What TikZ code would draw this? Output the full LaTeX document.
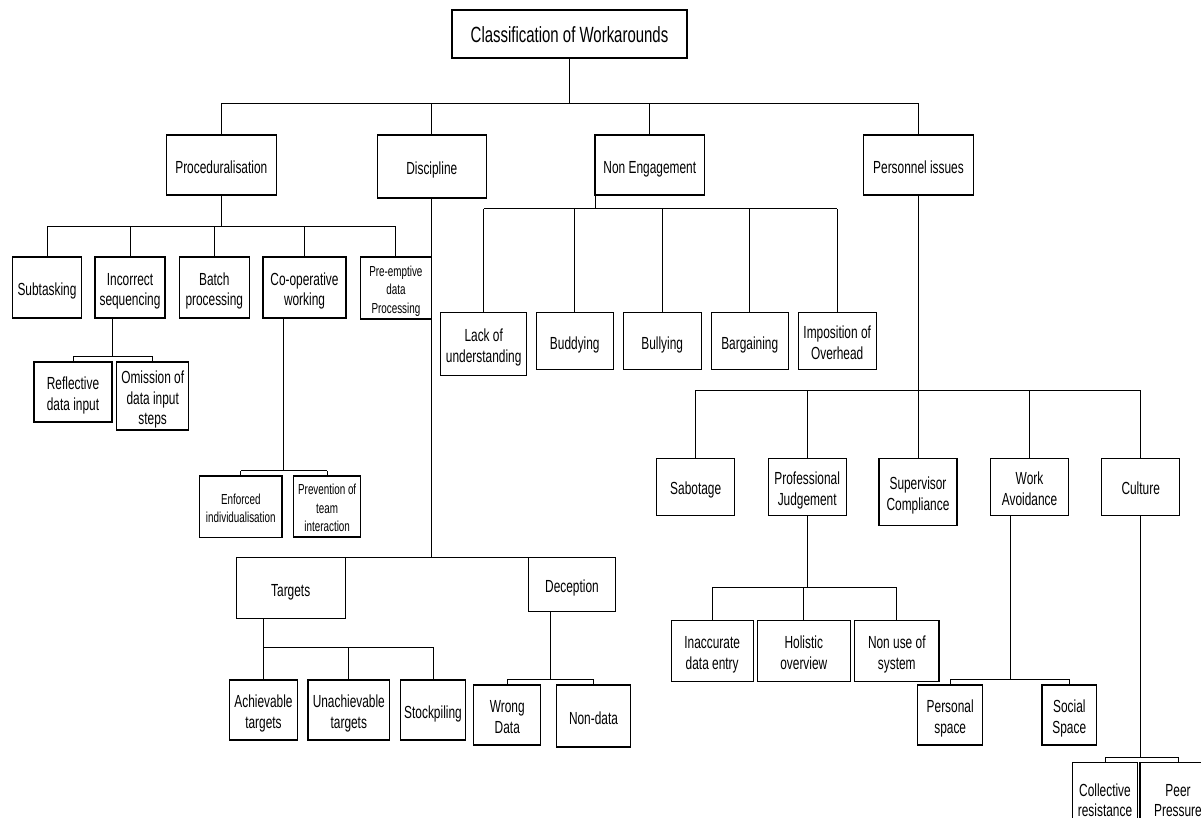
\documentclass[tikz,border=0pt]{standalone}
\usepackage{fontspec}
\setmainfont{Liberation Sans}[FakeStretch=0.68]
\usetikzlibrary{calc}
\newcommand{\bt}[2][-4pt]{\raisebox{#1}[\height][\depth]{\begin{tabular}{@{}c@{}}#2\end{tabular}}}
\tikzset{
  box/.style={draw=black, line width=1.1pt, rectangle, inner sep=1pt, outer sep=0pt,
    font=\fontsize{17.5}{20.5}\selectfont},
  smallbox/.style={box, font=\fontsize{14.5}{18.5}\selectfont},
  titlebox/.style={box, font=\fontsize{22}{26}\selectfont},
  sz/.style 2 args={minimum width=#1pt, minimum height=#2pt},
  conn/.style={draw=black, line width=1pt},
}
\begin{document}
\begin{tikzpicture}[x=1pt, y=-1pt]
\useasboundingbox (0,0) rectangle (1201,818);
\clip (0,0) rectangle (1201,818);

% ---------- nodes ----------
\node[titlebox, sz={235}{48}] (title) at (569.5,34) {\bt[-3pt]{Classification of Workarounds}};

\node[box, sz={109.5}{60}] (proc)   at (221.3,165)   {\bt{Proceduralisation}};
\node[box, sz={109.5}{63}] (disc)   at (431.8,166.5) {\bt{Discipline}};
\node[box, sz={109.6}{60}] (noneng) at (649.8,165)   {\bt{Non Engagement}};
\node[box, sz={110}{60}]   (pers)   at (918.5,165)   {\bt{Personnel issues}};

% Proceduralisation children
\node[box, sz={69.4}{61}] (sub)   at (47,287.5)    {\bt{Subtasking}};
\node[box, sz={70}{61}]   (inc)   at (130,287.5)   {\bt{Incorrect\\sequencing}};
\node[box, sz={69.5}{61}] (batch) at (214.3,287.5) {\bt{Batch\\processing}};
\node[box, sz={83}{61}]   (coop)  at (304.5,287.5) {\bt{Co-operative\\working}};
\node[smallbox, sz={70.8}{62}] (pre) at (395.9,288) {\bt[-3pt]{Pre-emptive\\data\\Processing}};

\node[box, sz={78}{60}] (refl) at (73,392)    {\bt{Reflective\\data input}};
\node[box, sz={72}{68}] (omis) at (152.7,396) {\bt{Omission of\\data input\\steps}};

\node[smallbox, sz={82.4}{61.3}] (enf)  at (240.8,506.6) {\bt[-3pt]{Enforced\\individualisation}};
\node[smallbox, sz={66.8}{61}]   (prev) at (327.2,506.5) {\bt[-3pt]{Prevention of\\team\\interaction}};

% Discipline children
\node[box, sz={109.3}{60.3}] (targ) at (290.7,587.9) {\bt{Targets}};
\node[box, sz={87.4}{53.6}]  (dec)  at (572,584.5)   {\bt{Deception}};

\node[box, sz={68}{60}]   (ach)   at (263.5,710) {\bt{Achievable\\targets}};
\node[box, sz={81.6}{60}] (unach) at (348.8,710) {\bt{Unachievable\\targets}};
\node[box, sz={65.2}{60}] (stock) at (433,710)   {\bt{Stockpiling}};

\node[box, sz={66.8}{60}] (wrong) at (507.3,715) {\bt{Wrong\\Data}};
\node[box, sz={74.3}{62}] (nond)  at (593.5,716) {\bt{Non-data}};

% Non Engagement children
\node[box, sz={86}{62.6}]   (lack)  at (483.7,344) {\bt{Lack of\\understanding}};
\node[box, sz={77}{56.6}]   (budd)  at (574.8,341) {\bt{Buddying}};
\node[box, sz={77.7}{56.6}] (bully) at (662.2,341) {\bt{Bullying}};
\node[box, sz={77.3}{56.6}] (barg)  at (749.7,341) {\bt{Bargaining}};
\node[box, sz={77.7}{56.6}] (impo)  at (837.2,341) {\bt{Imposition of\\Overhead}};

% Personnel issues children
\node[box, sz={77.7}{56.7}] (sab)  at (695.7,486.7)  {\bt{Sabotage}};
\node[box, sz={77.7}{56.7}] (pj)   at (807.2,486.7)  {\bt{Professional\\Judgement}};
\node[box, sz={78}{66.7}]   (sup)  at (918,491.7)    {\bt{Supervisor\\Compliance}};
\node[box, sz={77.7}{56.7}] (work) at (1029.5,486.7) {\bt{Work\\Avoidance}};
\node[box, sz={77.7}{56.7}] (cult) at (1140.7,486.7) {\bt{Culture}};

\node[box, sz={81.7}{60.7}] (inac)   at (712.2,650.7) {\bt{Inaccurate\\data entry}};
\node[box, sz={92.5}{60.7}] (hol)    at (803.8,650.7) {\bt{Holistic\\overview}};
\node[box, sz={84.4}{60.7}] (nonuse) at (896.8,650.7) {\bt{Non use of\\system}};

\node[box, sz={64.7}{60}] (persp) at (950.2,715)  {\bt{Personal\\space}};
\node[box, sz={54.6}{60}] (socsp) at (1069.3,715) {\bt{Social\\Space}};

\node[box, sz={65.4}{72}] (coll) at (1105,798.3) {\bt{Collective\\resistance}};
\node[box, sz={76}{72}]   (peer) at (1178,798.3) {\bt{Peer\\Pressure}};

% ---------- connectors ----------
% root
\coordinate (b0) at (0,104);
\draw[conn] (title.south) -- (title.south |- b0);
\draw[conn] (proc.north |- b0) -- (pers.north |- b0);
\foreach \n in {proc,disc,noneng,pers} \draw[conn] (\n.north) -- (\n.north |- b0);

% Proceduralisation
\coordinate (b1) at (0,227);
\draw[conn] (proc.south) -- (proc.south |- b1);
\draw[conn] (sub.north |- b1) -- (pre.north |- b1);
\foreach \n in {sub,inc,batch,coop,pre} \draw[conn] (\n.north) -- (\n.north |- b1);

% Incorrect sequencing
\coordinate (b2) at (0,356);
\coordinate (incd) at ($(inc.south west)!0.25!(inc.south east)$);
\draw[conn] (incd) -- (incd |- b2);
\draw[conn] (refl.north |- b2) -- (omis.north |- b2);
\foreach \n in {refl,omis} \draw[conn] (\n.north) -- (\n.north |- b2);

% Co-operative working
\coordinate (b3) at (0,470.7);
\coordinate (coopd) at ($(coop.south west)!0.25!(coop.south east)$);
\draw[conn] (coopd) -- (coopd |- b3);
\draw[conn] (enf.north |- b3) -- (prev.north |- b3);
\foreach \n in {enf,prev} \draw[conn] (\n.north) -- (\n.north |- b3);

% Discipline
\coordinate (b4) at (0,557);
\draw[conn] (disc.south) -- (disc.south |- b4);
\draw[conn] (targ.north |- b4) -- (dec.north |- b4);

% Targets
\coordinate (b5) at (0,647);
\coordinate (targd) at ($(targ.south west)!0.25!(targ.south east)$);
\draw[conn] (targd) -- (targd |- b5);
\draw[conn] (ach.north |- b5) -- (stock.north |- b5);
\foreach \n in {ach,unach,stock} \draw[conn] (\n.north) -- (\n.north |- b5);

% Deception
\coordinate (b6) at (0,679.3);
\coordinate (decd) at ($(dec.south west)!0.25!(dec.south east)$);
\draw[conn] (decd) -- (decd |- b6);
\draw[conn] (wrong.north |- b6) -- (nond.north |- b6);
\foreach \n in {wrong,nond} \draw[conn] (\n.north) -- (\n.north |- b6);

% Non Engagement
\coordinate (b7) at (0,209);
\draw[conn] (noneng.south west) -- (noneng.south west |- b7);
\draw[conn] (lack.north |- b7) -- (impo.north |- b7);
\foreach \n in {lack,budd,bully,barg,impo} \draw[conn] (\n.north) -- (\n.north |- b7);

% Personnel issues
\coordinate (b8) at (0,390.3);
\draw[conn] (pers.south) -- (pers.south |- b8);
\draw[conn] (sab.north |- b8) -- (cult.north |- b8);
\foreach \n in {sab,pj,sup,work,cult} \draw[conn] (\n.north) -- (\n.north |- b8);

% Professional Judgement
\coordinate (b9) at (0,587.7);
\draw[conn] (pj.south) -- (pj.south |- b9);
\draw[conn] (inac.north |- b9) -- (nonuse.north |- b9);
\foreach \n in {inac,hol,nonuse} \draw[conn] (\n.north) -- (\n.north |- b9);

% Work Avoidance
\coordinate (b10) at (0,679.3);
\coordinate (workd) at ($(work.south west)!0.25!(work.south east)$);
\draw[conn] (workd) -- (workd |- b10);
\draw[conn] (persp.north |- b10) -- (socsp.north |- b10);
\foreach \n in {persp,socsp} \draw[conn] (\n.north) -- (\n.north |- b10);

% Culture
\coordinate (b11) at (0,757.3);
\draw[conn] (cult.south) -- (cult.south |- b11);
\draw[conn] (coll.north |- b11) -- (peer.north |- b11);
\foreach \n in {coll,peer} \draw[conn] (\n.north) -- (\n.north |- b11);
\end{tikzpicture}
\end{document}
